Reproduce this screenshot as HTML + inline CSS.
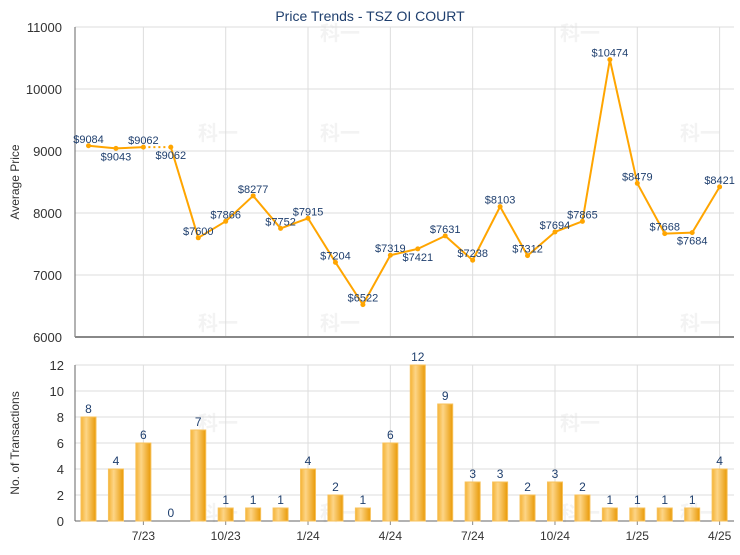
<!DOCTYPE html>
<html><head><meta charset="utf-8"><style>
body{margin:0;background:#fff;}
svg text{font-family:"Liberation Sans","Noto Sans CJK SC",sans-serif;}
</style></head><body>
<svg id="c" width="740" height="550" xmlns="http://www.w3.org/2000/svg">
<text x="370" y="21" text-anchor="middle" font-size="14" fill="#1f3f6e">Price Trends - TSZ OI COURT</text>
<text x="19" y="182" font-size="12" fill="#333" text-anchor="middle" transform="rotate(-90 19 182)">Average Price</text>
<text x="19" y="443" font-size="12" fill="#333" text-anchor="middle" transform="rotate(-90 19 443)">No. of Transactions</text>
<g id="g"></g>
</svg>
<script>
const months=["5/23","6/23","7/23","8/23","9/23","10/23","11/23","12/23","1/24","2/24","3/24","4/24","5/24","6/24","7/24","8/24","9/24","10/24","11/24","12/24","1/25","2/25","3/25","4/25"];
const prices=[9084,9043,9062,9062,7600,7866,8277,7752,7915,7204,6522,7319,7421,7631,7238,8103,7312,7694,7865,10474,8479,7668,7684,8421];
const counts=[8,4,6,0,7,1,1,1,4,2,1,6,12,9,3,3,2,3,2,1,1,1,1,4];
const priceTicks=[6000,7000,8000,9000,10000,11000];
const countTicks=[0,2,4,6,8,10,12];
const xTickLabels=["7/23","10/23","1/24","4/24","7/24","10/24","1/25","4/25"];
const labelAbove=[1,0,1,0,1,1,1,1,1,1,1,1,0,1,1,1,1,1,1,1,1,1,0,1];

const NS="http://www.w3.org/2000/svg";
const g=document.getElementById('g');
const L=75,R=734;
const x=i=>88.5+i*27.44;
const yP=v=>337-(v-6000)*0.062;
const yC=v=>521-v*13;
function mk(t,a,p){const e=document.createElementNS(NS,t);for(const k in a)e.setAttribute(k,a[k]);(p||g).appendChild(e);return e;}

const defs=mk('defs',{});
const lg=mk('linearGradient',{id:'bg',x1:'0',x2:'1',y1:'0',y2:'0'},defs);
mk('stop',{offset:'0','stop-color':'#f5b335'},lg);
mk('stop',{offset:'0.35','stop-color':'#fdd587'},lg);
mk('stop',{offset:'1','stop-color':'#e99a07'},lg);

[[218,140],[340,140],[218,330],[340,330],[700,140],[700,330],[340,40],[580,40],[218,520],[340,520],[580,520],[700,520],[580,430],[218,430]].forEach(p=>{
 const t=mk('text',{x:p[0],y:p[1],'font-size':'20','font-weight':'bold',fill:'#f3f3f3','text-anchor':'middle'});t.textContent='科一';
 
 
});

xTickLabels.forEach(lb=>{
 const i=months.indexOf(lb);
 const l1=mk('line',{x1:x(i),x2:x(i),y1:27,y2:337,stroke:'#ddd'});
 
 
 const l2=mk('line',{x1:x(i),x2:x(i),y1:365,y2:521,stroke:'#ddd'});
 
 
 mk('line',{x1:x(i),x2:x(i),y1:521,y2:525,stroke:'#888'});
 const t=mk('text',{x:x(i),y:540,'font-size':'12',fill:'#333','text-anchor':'middle'});t.textContent=lb;
 
 
});
priceTicks.forEach(v=>{
 if(v>6000){const l=mk('line',{x1:L,x2:R,y1:yP(v),y2:yP(v),stroke:'#ddd'});
 
 }
 const t=mk('text',{x:62,y:yP(v)+5,'font-size':'13',fill:'#333','text-anchor':'end'});t.textContent=v;
 
 
});
countTicks.forEach(v=>{
 if(v>0){const l=mk('line',{x1:L,x2:R,y1:yC(v),y2:yC(v),stroke:'#ddd'});
 
 }
 const t=mk('text',{x:64,y:yC(v)+5,'font-size':'13',fill:'#333','text-anchor':'end'});t.textContent=v;
 
 
});
mk('line',{x1:L,x2:L,y1:27,y2:337,stroke:'#666'});
mk('line',{x1:L,x2:R,y1:337,y2:337,stroke:'#888','stroke-width':2});
mk('line',{x1:L,x2:L,y1:365,y2:521,stroke:'#666'});
mk('line',{x1:L,x2:R,y1:521,y2:521,stroke:'#666'});

for(let i=0;i<prices.length-1;i++){
 const dotted=counts[i+1]===0;
 const s=mk('line',{x1:x(i),y1:yP(prices[i]),x2:x(i+1),y2:yP(prices[i+1]),stroke:'#ffa500','stroke-width':2,'stroke-dasharray':dotted?'2,3':'none'});
 
 
}
prices.forEach((v,i)=>{
 const c=mk('circle',{cx:x(i),cy:yP(v),r:2.5,fill:'#ffa500'});
 
 
 const t=mk('text',{x:x(i),y:labelAbove[i]?yP(v)-3:yP(v)+12,'font-size':'11',fill:'#1f3f6e','text-anchor':'middle'});t.textContent='$'+v;
 
 
});
counts.forEach((v,i)=>{
 if(v>0){const b=mk('rect',{x:x(i)-7.5,y:yC(v),width:15,height:v*13,fill:'url(#bg)',stroke:'#f7c15a','stroke-width':1});
 
 }
 const t=mk('text',{x:x(i),y:yC(v)-4,'font-size':'12',fill:'#1f3f6e','text-anchor':'middle'});t.textContent=v;
 
 
});
</script>
</body></html>
